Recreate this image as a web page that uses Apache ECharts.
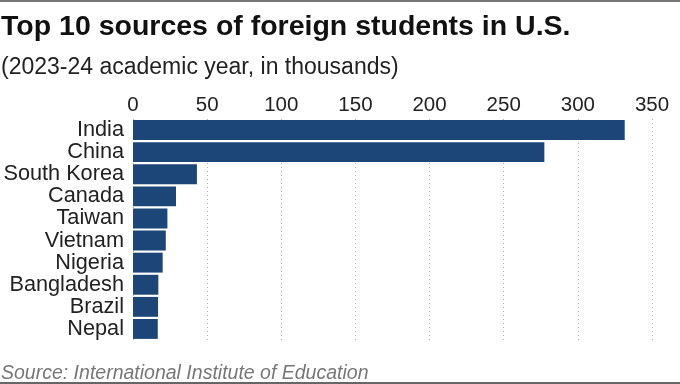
<!DOCTYPE html>
<html>
<head>
<meta charset="utf-8">
<script src="https://cdn.jsdelivr.net/npm/echarts@6/dist/echarts.min.js"></script>
<style>
html,body{margin:0;padding:0;background:#fff;}
#chart{width:680px;height:384px;}
</style>
</head>
<body>
<div id="chart"></div>
<script>
const categories = ["India","China","South Korea","Canada","Taiwan","Vietnam","Nigeria","Bangladesh","Brazil","Nepal"];
const students = [331.6, 277.4, 43.1, 29.0, 23.2, 22.1, 20.0, 17.1, 16.9, 16.7];
const tickValues = [0, 50, 100, 150, 200, 250, 300, 350];
const titleText = "Top 10 sources of foreign students in U.S.";
const subtitleText = "(2023-24 academic year, in thousands)";
const sourceText = "Source: International Institute of Education";

const font = "'Liberation Sans', Arial, Helvetica, sans-serif";
const chart = echarts.init(document.getElementById('chart'), null, {renderer:'canvas'});
chart.setOption({
  backgroundColor: '#ffffff',
  animation: false,
  title: [
    {text: titleText, left: 1, top: 13, padding: 0,
     textStyle: {fontFamily: font, fontSize: 28.5, fontWeight: 'bold', color: '#111'}},
    {text: subtitleText, left: 1, top: 56, padding: 0,
     textStyle: {fontFamily: font, fontSize: 23, fontWeight: 'normal', color: '#222'}},
    {text: sourceText, left: 1, top: 364, padding: 0,
     textStyle: {fontFamily: font, fontSize: 19.5, fontWeight: 'normal', fontStyle: 'italic', color: '#777'}}
  ],
  graphic: [
    {type: 'rect', shape: {x: 0, y: 0, width: 680, height: 2}, style: {fill: '#777'}},
    {type: 'rect', shape: {x: 0, y: 382, width: 680, height: 2}, style: {fill: '#666'}}
  ],
  grid: {left: 133, right: 28, top: 119, height: 221, containLabel: false},
  xAxis: {
    type: 'value', position: 'top', min: tickValues[0], max: tickValues[tickValues.length-1], interval: 50,
    axisLine: {show: false}, axisTick: {show: false},
    axisLabel: {fontFamily: font, fontSize: 20.5, color: '#222', margin: 3},
    splitLine: {show: true, lineStyle: {type: [1, 3], color: '#b0b0b0', width: 1}}
  },
  yAxis: {
    type: 'category', data: categories, inverse: true,
    axisLine: {show: false}, axisTick: {show: false},
    axisLabel: {fontFamily: font, fontSize: 21.7, color: '#222', margin: 9, interval: 0}
  },
  series: [{
    type: 'bar', data: students, barCategoryGap: '10%',
    itemStyle: {color: '#1b4677'},
    z: 3
  }]
});
</script>
</body>
</html>
